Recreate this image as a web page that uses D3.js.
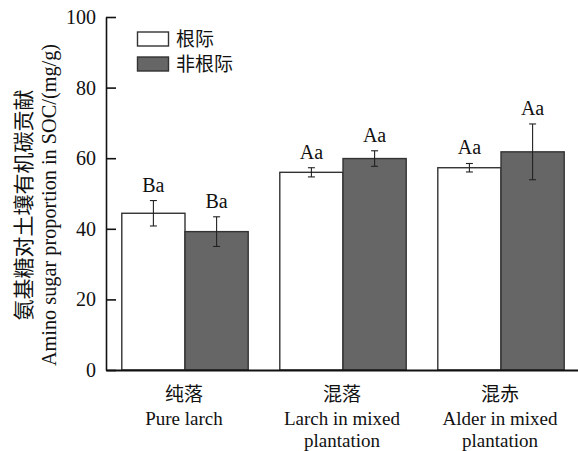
<!DOCTYPE html>
<html>
<head>
<meta charset="utf-8">
<script src="https://cdn.jsdelivr.net/npm/d3@7/dist/d3.min.js"></script>
<style>
  html, body { margin: 0; padding: 0; background: #fff; }
  svg { display: block; }
  .serif { font-family: "Liberation Serif", "Times New Roman", serif; }
  .cjk { font-family: "Noto Sans CJK SC", sans-serif; }
</style>
</head>
<body>
<svg id="chart" width="578" height="451"></svg>
<script>
// Plantation groups (Chinese name + English lines)
const groups = ["纯落", "混落", "混赤"];
const groupEnglish = [["Pure larch"], ["Larch in mixed", "plantation"], ["Alder in mixed", "plantation"]];
// Series: rhizosphere vs. bulk soil
const series = ["根际", "非根际"];
const seriesFill = ["#ffffff", "#666666"];
const rhizoValues = [44.4, 56.0, 57.3];
const rhizoErrors = [3.6, 1.3, 1.2];
const bulkValues = [39.2, 59.9, 61.8];
const bulkErrors = [4.2, 2.2, 7.9];
const rhizoLetters = ["Ba", "Aa", "Aa"];
const bulkLetters = ["Ba", "Aa", "Aa"];
const yTicks = [0, 20, 40, 60, 80, 100];

const rows = [];
groups.forEach((g, i) => {
  rows.push({ group: g, s: 0, value: rhizoValues[i], err: rhizoErrors[i], letter: rhizoLetters[i] });
  rows.push({ group: g, s: 1, value: bulkValues[i], err: bulkErrors[i], letter: bulkLetters[i] });
});

const svg = d3.select("#chart");
const plotLeft = 106, plotBottom = 370, plotTop = 17, plotRight = 580;

const x = d3.scaleBand().domain(groups).range([plotLeft, plotRight]).paddingInner(0.2).paddingOuter(0.1);
const xs = d3.scaleBand().domain([0, 1]).range([0, x.bandwidth()]);
const y = d3.scaleLinear().domain([0, 100]).range([plotBottom, plotTop]);

// Bars
svg.append("g").selectAll("rect").data(rows).join("rect")
  .attr("x", d => x(d.group) + xs(d.s))
  .attr("y", d => y(d.value))
  .attr("width", xs.bandwidth())
  .attr("height", d => y(0) - y(d.value))
  .attr("fill", d => seriesFill[d.s])
  .attr("stroke", "#333")
  .attr("stroke-width", 1.4);

// Error bars
const eb = svg.append("g").attr("stroke", "#222").attr("stroke-width", 1.1);
rows.forEach(d => {
  const cx = x(d.group) + xs(d.s) + xs.bandwidth() / 2;
  const y1 = y(d.value + d.err), y2 = y(d.value - d.err);
  eb.append("line").attr("x1", cx).attr("x2", cx).attr("y1", y1).attr("y2", y2);
  eb.append("line").attr("x1", cx - 3.5).attr("x2", cx + 3.5).attr("y1", y1).attr("y2", y1);
  eb.append("line").attr("x1", cx - 3.5).attr("x2", cx + 3.5).attr("y1", y2).attr("y2", y2);
});

// Significance letters
svg.append("g").selectAll("text").data(rows).join("text")
  .attr("class", "serif")
  .attr("x", d => x(d.group) + xs(d.s) + xs.bandwidth() / 2)
  .attr("y", d => y(d.value + d.err) - 9)
  .attr("text-anchor", "middle")
  .attr("font-size", 20)
  .attr("fill", "#111")
  .text(d => d.letter);

// Y axis with inward ticks
const yAxis = svg.append("g").attr("transform", `translate(${plotLeft},0)`)
  .call(d3.axisLeft(y).tickValues(yTicks).tickSizeInner(-10).tickSizeOuter(0).tickPadding(10));
yAxis.selectAll("path, line").attr("stroke", "#111").attr("stroke-width", 1.6);
yAxis.selectAll("text").attr("class", "serif").attr("font-size", 20).attr("fill", "#111");

// X axis baseline
const xAxis = svg.append("g").attr("transform", `translate(0,${plotBottom})`)
  .call(d3.axisBottom(x).tickSize(0).tickSizeOuter(0).tickFormat(""));
xAxis.select("path").attr("stroke", "#111").attr("stroke-width", 1.8);

// Category labels: Chinese name, then English name (one tspan per line)
groups.forEach((g, i) => {
  const cx = x(g) + x.bandwidth() / 2 - 1;
  svg.append("text").attr("class", "cjk").attr("x", cx).attr("y", 401)
    .attr("text-anchor", "middle").attr("font-size", 19).attr("fill", "#111").text(g);
  const en = svg.append("text").attr("class", "serif").attr("x", cx).attr("y", 425)
    .attr("text-anchor", "middle").attr("font-size", 19).attr("fill", "#111");
  groupEnglish[i].forEach((line, j) => {
    en.append("tspan").attr("x", cx).attr("dy", j === 0 ? 0 : 21.5).text(line);
  });
});

// Y axis titles
const yMid = 205;
svg.append("text").attr("class", "cjk")
  .attr("transform", `translate(31,${yMid}) rotate(-90)`)
  .attr("text-anchor", "middle").attr("font-size", 21).attr("fill", "#111")
  .text("氨基糖对土壤有机碳贡献");
svg.append("text").attr("class", "serif")
  .attr("transform", `translate(56,${yMid}) rotate(-90)`)
  .attr("text-anchor", "middle").attr("font-size", 20.3).attr("fill", "#111")
  .text("Amino sugar proportion in SOC/(mg/g)");

// Legend
const legend = svg.append("g");
series.forEach((s, i) => {
  const ly = 32 + i * 25;
  legend.append("rect").attr("x", 137.5).attr("y", ly).attr("width", 31).attr("height", 14)
    .attr("fill", seriesFill[i]).attr("stroke", "#333").attr("stroke-width", 1.4);
  legend.append("text").attr("class", "cjk").attr("x", 176).attr("y", ly + 14)
    .attr("font-size", 19).attr("fill", "#111").text(s);
});
</script>
</body>
</html>
